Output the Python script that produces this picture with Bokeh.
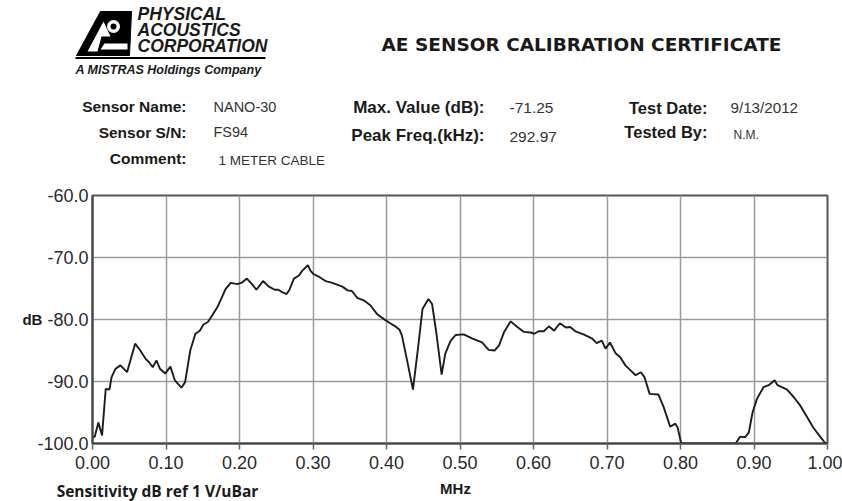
from bokeh.plotting import figure
from bokeh.layouts import column
from bokeh.models import Range1d, FixedTicker, NumeralTickFormatter
from bokeh.core.properties import value
from bokeh.embed import file_html
from bokeh.resources import INLINE

# ---- data ----
freq_mhz = [0.000, 0.003, 0.008, 0.013, 0.018, 0.023, 0.026, 0.031, 0.038, 0.047,
            0.058, 0.065, 0.072, 0.077, 0.082, 0.087, 0.092, 0.099, 0.106, 0.112,
            0.121, 0.126, 0.133, 0.140, 0.146, 0.151, 0.157, 0.163, 0.170, 0.181,
            0.188, 0.197, 0.204, 0.210, 0.217, 0.223, 0.232, 0.240, 0.248, 0.253,
            0.258, 0.264, 0.268, 0.274, 0.281, 0.285, 0.293, 0.297, 0.301, 0.308,
            0.317, 0.324, 0.331, 0.340, 0.347, 0.353, 0.360, 0.369, 0.378, 0.387,
            0.396, 0.405, 0.412, 0.418, 0.421, 0.428, 0.436, 0.443, 0.449, 0.457,
            0.462, 0.468, 0.475, 0.480, 0.487, 0.494, 0.505, 0.517, 0.530, 0.539,
            0.547, 0.553, 0.560, 0.569, 0.578, 0.587, 0.596, 0.601, 0.607, 0.614,
            0.621, 0.628, 0.636, 0.644, 0.650, 0.657, 0.668, 0.680, 0.686, 0.693,
            0.698, 0.704, 0.712, 0.718, 0.725, 0.732, 0.739, 0.746, 0.751, 0.758,
            0.770, 0.777, 0.786, 0.793, 0.796, 0.801, 0.875, 0.881, 0.888, 0.893,
            0.898, 0.904, 0.913, 0.920, 0.928, 0.932, 0.938, 0.945, 0.954, 0.963,
            0.972, 0.981, 0.990, 0.996, 1.000]
sens_db = [-99.0, -98.9, -96.6, -98.7, -91.2, -91.3, -89.3, -88.0, -87.4, -88.5,
           -83.9, -85.0, -86.3, -86.9, -87.7, -86.6, -88.0, -88.7, -87.6, -89.8,
           -91.0, -90.1, -85.0, -82.3, -81.8, -80.8, -80.4, -79.3, -78.0, -75.1,
           -74.1, -74.3, -74.0, -73.4, -74.3, -75.2, -73.8, -74.7, -75.2, -75.2,
           -75.6, -75.9, -75.2, -73.4, -72.9, -72.2, -71.25, -72.2, -72.7, -73.1,
           -73.8, -74.0, -74.3, -74.7, -75.3, -75.4, -76.5, -76.9, -77.7, -79.1,
           -79.9, -80.6, -81.1, -81.7, -82.6, -86.6, -91.3, -84.5, -78.3, -76.7,
           -77.5, -82.3, -88.9, -85.5, -83.5, -82.5, -82.4, -83.1, -83.7, -84.9,
           -85.0, -84.2, -82.0, -80.3, -81.2, -82.0, -82.1, -82.3, -81.9, -81.9,
           -81.1, -81.8, -80.6, -81.3, -81.2, -81.9, -82.4, -83.1, -83.8, -83.4,
           -84.7, -83.7, -85.5, -86.1, -87.4, -88.2, -89.0, -88.5, -89.3, -92.0,
           -92.1, -94.1, -97.3, -96.8, -97.4, -100.0, -100.0, -98.9, -99.0, -98.2,
           -95.0, -92.8, -90.9, -90.6, -89.8, -90.6, -90.9, -91.3, -92.5, -93.9,
           -95.7, -97.5, -98.9, -99.8, -100.0]
x_ticks = [0.0, 0.1, 0.2, 0.3, 0.4, 0.5, 0.6, 0.7, 0.8, 0.9, 1.0]
y_ticks = [-100, -90, -80, -70, -60]

# header / footer texts
field_labels_left = ["Sensor Name:", "Sensor S/N:", "Comment:"]
field_values_left = ["NANO-30", "FS94", "1 METER CABLE"]
field_labels_mid = ["Max. Value (dB):", "Peak Freq.(kHz):"]
field_values_mid = ["-71.25", "292.97"]
field_labels_right = ["Test Date:", "Tested By:"]
field_values_right = ["9/13/2012", "N.M."]

W_ALL = 842


def no_align(f):
    if "frame_align" in f.properties():
        f.frame_align = False


def blank(height, y_top, y_bot):
    f = figure(width=W_ALL, height=height, output_backend="svg",
               toolbar_location=None, x_range=Range1d(0, W_ALL),
               y_range=Range1d(y_bot, y_top), min_border=0)
    f.axis.visible = False
    f.grid.visible = False
    f.outline_line_color = None
    f.background_fill_color = "white"
    f.border_fill_color = "white"
    no_align(f)
    return f


def txt(f, x, y, text, size, style="normal", align="left",
        font="Liberation Sans", color="#1a1a1a"):
    f.text([x], [y], text=[text], text_font=value(font),
           text_font_size=f"{size}px", text_font_style=style,
           text_align=align, text_baseline="middle", text_color=color)


# ---------------- header ----------------
hd = blank(185, 0, 185)
# logo mark
hd.patch([76, 100, 131, 129], [55, 11, 11, 55], fill_color="black", line_color="black")
hd.patch([87, 103, 110, 101, 97], [51, 21, 36, 36, 51], fill_color="white", line_color=None)
hd.patch([104, 127, 127, 100], [43, 43, 49, 49], fill_color="white", line_color=None)
hd.scatter([113], [26], size=13, fill_color="white", line_color=None)
hd.scatter([113], [26], size=6, fill_color="black", line_color=None)
hd.patch([75, 265, 265, 75], [56.5, 56.5, 58.5, 58.5], fill_color="black", line_color=None)

txt(hd, 137, 13, "PHYSICAL", 17.5, "bold italic")
txt(hd, 137, 29, "ACOUSTICS", 17.5, "bold italic")
txt(hd, 137, 45, "CORPORATION", 17.5, "bold italic")
txt(hd, 75, 69, "A MISTRAS Holdings Company", 12.5, "bold italic")

txt(hd, 581, 44, "AE SENSOR CALIBRATION CERTIFICATE", 18.5, "bold", "center", "DejaVu Sans")

for t, yy in zip(field_labels_left, [106, 132, 158]):
    txt(hd, 186, yy, t, 15.5, "bold", "right")
for t, xx, yy, sz in zip(field_values_left, [213, 213, 218], [106, 131, 160],
                         [14.5, 14.5, 13.5]):
    txt(hd, xx, yy, t, sz, color="#333333")
for t, yy in zip(field_labels_mid, [107, 135]):
    txt(hd, 484, yy, t, 17, "bold", "right")
for t, yy in zip(field_values_mid, [107, 136]):
    txt(hd, 509, yy, t, 15.5, color="#333333")
for t, yy in zip(field_labels_right, [107, 131]):
    txt(hd, 707, yy, t, 16.5, "bold", "right")
for t, xx, yy, sz in zip(field_values_right, [730, 733], [107, 134], [15.2, 12]):
    txt(hd, xx, yy, t, sz, color="#333333")

# ---------------- main chart ----------------
p = figure(width=W_ALL, height=290, output_backend="svg", toolbar_location=None,
           x_range=Range1d(0, 1), y_range=Range1d(-100, -60),
           min_border_left=92, min_border_right=15, min_border_top=10,
           min_border_bottom=32)
p.background_fill_color = "white"
p.border_fill_color = "white"
p.outline_line_color = "#555555"
p.outline_line_width = 2
no_align(p)

p.line(freq_mhz, sens_db, line_color="#1c1c1c", line_width=1.9)

p.xaxis.ticker = FixedTicker(ticks=x_ticks)
p.yaxis.ticker = FixedTicker(ticks=y_ticks)
p.xaxis.formatter = NumeralTickFormatter(format="0.00")
p.yaxis.formatter = NumeralTickFormatter(format="0.0")
for ax in (p.xaxis[0], p.yaxis[0]):
    ax.axis_line_color = "#444444"
    ax.axis_line_width = 2
    ax.major_tick_line_color = "#666666"
    ax.major_tick_line_width = 1.5
    ax.minor_tick_line_color = None
    ax.major_label_text_font = "Liberation Sans"
    ax.major_label_text_font_size = "18px"
    ax.major_label_text_color = "#2a2a2a"
p.xaxis.major_tick_in = 0
p.xaxis.major_tick_out = 6
p.xaxis.major_label_standoff = 6
p.yaxis.major_tick_in = 0
p.yaxis.major_tick_out = 0
p.yaxis.major_label_standoff = 4

yax = p.yaxis[0]
yax.axis_label = "dB"
yax.axis_label_text_font = "Liberation Sans"
yax.axis_label_text_font_size = "15px"
yax.axis_label_text_font_style = "bold"
yax.axis_label_text_color = "#1a1a1a"
yax.axis_label_standoff = -8
if "axis_label_orientation" in yax.properties():
    yax.axis_label_orientation = "horizontal"

p.xgrid.ticker = FixedTicker(ticks=x_ticks)
p.ygrid.ticker = FixedTicker(ticks=y_ticks)
p.grid.grid_line_color = "#9a9a9a"
p.grid.grid_line_width = 1.5

# ---------------- footer ----------------
ft = blank(26, 475, 501)
txt(ft, 455, 488, "MHz", 15, "bold", "center")
txt(ft, 157, 490, "Sensitivity dB ref 1 V/uBar", 15.5, "bold", "center", "Open Sans")

layout = column(hd, p, ft, spacing=0)
open("out.html", "w").write(file_html(layout, INLINE))
